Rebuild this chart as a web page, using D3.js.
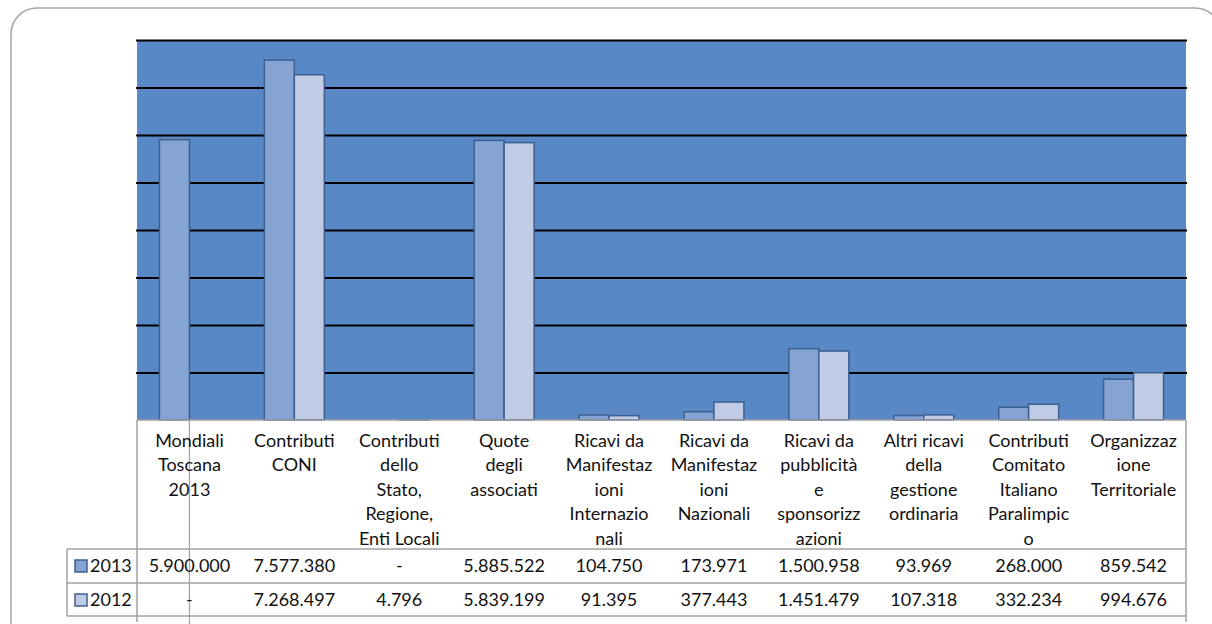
<!DOCTYPE html>
<html>
<head>
<meta charset="utf-8">
<script src="https://cdn.jsdelivr.net/npm/d3@7"></script>
<style>
  body { margin: 0; background: #fff; }
  svg text { font-family: Lato, "Open Sans", sans-serif; fill: #111; }
</style>
</head>
<body>
<div id="chart"></div>
<script>
// categories (header lines as they wrap in the data table)
const categories = [
  ["Mondiali", "Toscana", "2013"],
  ["Contributi", "CONI"],
  ["Contributi", "dello", "Stato,", "Regione,", "Enti Locali"],
  ["Quote", "degli", "associati"],
  ["Ricavi da", "Manifestaz", "ioni", "Internazio", "nali"],
  ["Ricavi da", "Manifestaz", "ioni", "Nazionali"],
  ["Ricavi da", "pubblicità", "e", "sponsorizz", "azioni"],
  ["Altri ricavi", "della", "gestione", "ordinaria"],
  ["Contributi", "Comitato", "Italiano", "Paralimpic", "o"],
  ["Organizzaz", "ione", "Territoriale"]
];
const series = ["2013", "2012"];
const values2013 = [5900000, 7577380, null, 5885522, 104750, 173971, 1500958, 93969, 268000, 859542];
const values2012 = [null, 7268497, 4796, 5839199, 91395, 377443, 1451479, 107318, 332234, 994676];
const yTicks = [1000000, 2000000, 3000000, 4000000, 5000000, 6000000, 7000000, 8000000];

const width = 1212, height = 624;
const plot = { left: 137, right: 1186, top: 40, bottom: 420 };
const colors = { "2013": "#86a4d3", "2012": "#c0cce6" };
const fontSize = 18;
const fmt = v => v == null ? "-" : d3.format(",")(v).replace(/,/g, ".");

const svg = d3.select("#chart").append("svg")
  .attr("width", width)
  .attr("height", height);

// outer rounded frame
svg.append("rect")
  .attr("x", 11).attr("y", 8)
  .attr("width", 1210).attr("height", 650)
  .attr("rx", 26)
  .attr("fill", "#fff")
  .attr("stroke", "#a6a6a6")
  .attr("stroke-width", 1.5);

const x0 = d3.scaleBand()
  .domain(d3.range(categories.length))
  .range([plot.left, plot.right]);

const x1 = d3.scaleBand()
  .domain(series)
  .range([0, x0.bandwidth()])
  .paddingOuter(0.75);

const y = d3.scaleLinear()
  .domain([0, 8000000])
  .range([plot.bottom, plot.top]);

// plot background
svg.append("rect")
  .attr("x", plot.left).attr("y", plot.top)
  .attr("width", plot.right - plot.left)
  .attr("height", plot.bottom - plot.top)
  .attr("fill", "#5889c6");

// gridlines
svg.append("g")
  .attr("transform", `translate(${plot.left - 1},0)`)
  .call(d3.axisLeft(y).tickValues(yTicks).tickSize(-(plot.right - plot.left + 2)).tickFormat(""))
  .call(g => g.select(".domain").remove())
  .call(g => g.selectAll(".tick line").attr("stroke", "#000").attr("stroke-width", 2));

// bars
const rows = series.map(s => ({ key: s, vals: s === "2013" ? values2013 : values2012 }));
const barData = [];
rows.forEach(r => r.vals.forEach((v, i) => { if (v != null) barData.push({ s: r.key, i, v }); }));

svg.append("g").selectAll("rect")
  .data(barData)
  .enter().append("rect")
  .attr("x", d => x0(d.i) + x1(d.s))
  .attr("y", d => y(d.v))
  .attr("width", x1.bandwidth())
  .attr("height", d => y(0) - y(d.v))
  .attr("fill", d => colors[d.s])
  .attr("stroke", "#3d5f8f")
  .attr("stroke-width", 1.5);

// data table
const tbl = { left: 67, headBottom: 549, row1: 583, row2: 616 };
const gridColor = "#a0a0a0";
const t = svg.append("g").attr("stroke", gridColor).attr("stroke-width", 1.5);
t.append("line").attr("x1", plot.left).attr("x2", plot.right).attr("y1", plot.bottom).attr("y2", plot.bottom);
t.append("line").attr("x1", plot.left).attr("x2", plot.left).attr("y1", plot.bottom).attr("y2", 622);
t.append("line").attr("x1", plot.right).attr("x2", plot.right).attr("y1", plot.bottom).attr("y2", 622);
[tbl.headBottom, tbl.row1, tbl.row2].forEach(yy =>
  t.append("line").attr("x1", tbl.left).attr("x2", plot.right).attr("y1", yy).attr("y2", yy));
t.append("line").attr("x1", tbl.left).attr("x2", tbl.left).attr("y1", tbl.headBottom).attr("y2", tbl.row2);
// stray tick through first column
t.append("line").attr("x1", x0(0) + x0.bandwidth() / 2).attr("x2", x0(0) + x0.bandwidth() / 2)
  .attr("y1", plot.bottom).attr("y2", 624).attr("stroke-width", 1.2);

// header labels
const head = svg.append("g");
categories.forEach((lines, i) => {
  const txt = head.append("text")
    .attr("x", x0(i) + x0.bandwidth() / 2)
    .attr("y", 447)
    .attr("text-anchor", "middle")
    .attr("font-size", fontSize);
  lines.forEach((l, k) => txt.append("tspan")
    .attr("x", x0(i) + x0.bandwidth() / 2)
    .attr("dy", k === 0 ? 0 : 24.4)
    .text(l));
});

// value rows
const rowY = { "2013": 572, "2012": 606 };
rows.forEach(r => {
  const g = svg.append("g");
  g.append("rect")
    .attr("x", 75).attr("y", rowY[r.key] - 12)
    .attr("width", 12).attr("height", 12)
    .attr("fill", colors[r.key])
    .attr("stroke", "#3d5f8f").attr("stroke-width", 1.5);
  g.append("text")
    .attr("x", 90).attr("y", rowY[r.key])
    .attr("font-size", fontSize)
    .text(r.key);
  g.selectAll("text.v")
    .data(r.vals)
    .enter().append("text")
    .attr("class", "v")
    .attr("x", (d, i) => x0(i) + x0.bandwidth() / 2)
    .attr("y", rowY[r.key])
    .attr("text-anchor", "middle")
    .attr("font-size", fontSize)
    .text(d => fmt(d));
});
</script>
</body>
</html>
